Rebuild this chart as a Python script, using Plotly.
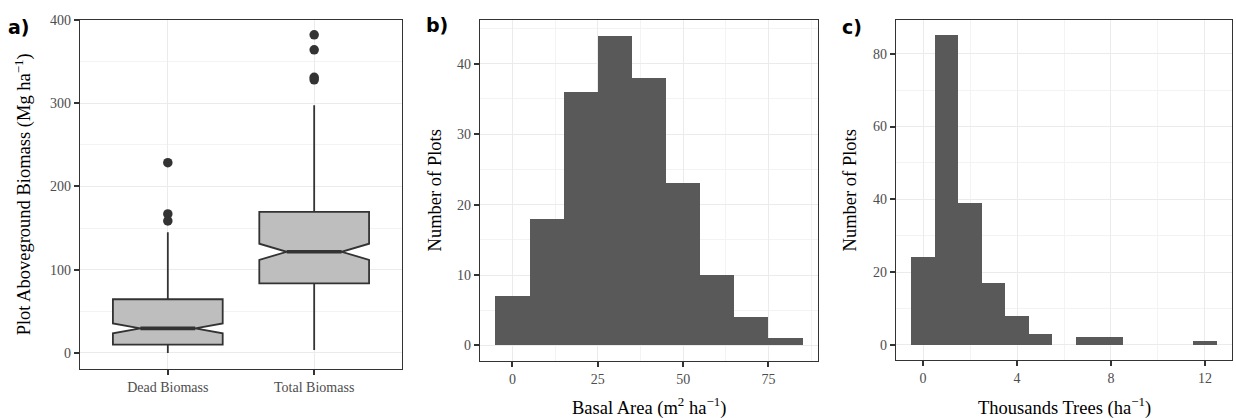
import plotly.graph_objects as go

# ---------------- data ----------------
box_categories = ["Dead Biomass", "Total Biomass"]
box_q1 = [10, 83.5]
box_median = [29.5, 121.5]
box_q3 = [64.5, 169.5]
box_lower = [0, 3.5]
box_upper = [145, 297.5]
box_notchspan = [5.9, 9.7]
dead_outliers = [228.5, 167, 158.5]
total_outliers = [382, 364, 331, 328]

ba_centers = [0, 10, 20, 30, 40, 50, 60, 70, 80]
ba_counts = [7, 18, 36, 44, 38, 23, 10, 4, 1]

tr_centers = [0, 1, 2, 3, 4, 5, 6, 7, 8, 9, 10, 11, 12]
tr_counts = [24, 85, 39, 17, 8, 3, 0, 2, 2, 0, 0, 0, 1]

# ---------------- style ----------------
W, H = 1236, 418
SERIF = "Liberation Serif, Times New Roman, serif"
LABEL_FONT = "DejaVu Sans, Arial, sans-serif"
BORDER = "#333333"
GRID = "#ebebeb"
MINOR = "#f3f3f3"
TICKC = "#4d4d4d"
BAR = "#595959"
BOXFILL = "#bebebe"
BOX_W = 0.75
NOTCH_W = 0.25


def px_x(p):
    return p / W


def px_y(p):
    return 1 - p / H


fig = go.Figure()

# ---- panel a: notched boxplots ----
for i, cat in enumerate(box_categories):
    pos = i + 1
    fig.add_trace(go.Box(
        x=[pos], q1=[box_q1[i]], median=[box_median[i]], q3=[box_q3[i]],
        lowerfence=[box_lower[i]], upperfence=[box_upper[i]],
        notchspan=[box_notchspan[i]], notched=True, notchwidth=NOTCH_W,
        width=BOX_W, whiskerwidth=0, boxpoints=False,
        fillcolor=BOXFILL, line=dict(color=BORDER, width=1.8),
        xaxis="x", yaxis="y", showlegend=False, hoverinfo="skip",
    ))
    # thicker median segment (ggplot fatten)
    half_med = BOX_W / 2 * (1 - 2 * NOTCH_W)
    fig.add_trace(go.Scatter(
        x=[pos - half_med, pos + half_med], y=[box_median[i]] * 2,
        mode="lines", line=dict(color=BORDER, width=3.6),
        xaxis="x", yaxis="y", showlegend=False, hoverinfo="skip",
    ))

fig.add_trace(go.Scatter(
    x=[1] * len(dead_outliers) + [2] * len(total_outliers),
    y=dead_outliers + total_outliers,
    mode="markers", marker=dict(color=BORDER, size=9.5),
    xaxis="x", yaxis="y", showlegend=False, hoverinfo="skip",
))

# ---- panel b: basal area histogram ----
fig.add_trace(go.Bar(
    x=ba_centers, y=ba_counts, width=10, marker=dict(color=BAR, line=dict(width=0)),
    xaxis="x2", yaxis="y2", showlegend=False, hoverinfo="skip",
))

# ---- panel c: trees histogram ----
fig.add_trace(go.Bar(
    x=tr_centers, y=tr_counts, width=1, marker=dict(color=BAR, line=dict(width=0)),
    xaxis="x3", yaxis="y3", showlegend=False, hoverinfo="skip",
))

common = dict(
    showline=True, mirror=True, linecolor=BORDER, linewidth=1.4,
    ticks="outside", ticklen=5, tickcolor=BORDER, tickwidth=1.8,
    tickfont=dict(family=SERIF, size=14, color=TICKC),
    showgrid=True, gridcolor=GRID, gridwidth=1.1, zeroline=False,
)

fig.update_layout(
    width=W, height=H, margin=dict(l=0, r=0, t=0, b=0),
    paper_bgcolor="white", plot_bgcolor="white", bargap=0,
    xaxis=dict(domain=[px_x(80), px_x(402)], range=[0.4, 2.6], anchor="y",
               tickvals=[1, 2], ticktext=box_categories, **common),
    yaxis=dict(domain=[px_y(368), px_y(13)], range=[-19.05, 400.05], anchor="x",
               tickvals=[0, 100, 200, 300, 400],
               minor=dict(tickvals=[50, 150, 250, 350], showgrid=True,
                          gridcolor=MINOR, gridwidth=0.7), **common),
    xaxis2=dict(domain=[px_x(480), px_x(818)], range=[-9.5, 89.5], anchor="y2",
                tickvals=[0, 25, 50, 75],
                minor=dict(tickvals=[12.5, 37.5, 62.5, 87.5], showgrid=True,
                           gridcolor=MINOR, gridwidth=0.7), **common),
    yaxis2=dict(domain=[px_y(360), px_y(13.3)], range=[-2.2, 46.2], anchor="x2",
                tickvals=[0, 10, 20, 30, 40],
                minor=dict(tickvals=[5, 15, 25, 35, 45], showgrid=True,
                           gridcolor=MINOR, gridwidth=0.7), **common),
    xaxis3=dict(domain=[px_x(896), px_x(1232)], range=[-1.15, 13.15], anchor="y3",
                tickvals=[0, 4, 8, 12],
                minor=dict(tickvals=[2, 6, 10], showgrid=True,
                           gridcolor=MINOR, gridwidth=0.7), **common),
    yaxis3=dict(domain=[px_y(359.3), px_y(13.3)], range=[-4.25, 89.25], anchor="x3",
                tickvals=[0, 20, 40, 60, 80],
                minor=dict(tickvals=[10, 30, 50, 70], showgrid=True,
                           gridcolor=MINOR, gridwidth=0.7), **common),
)

title_font = dict(family=SERIF, size=18.5, color="black")
label_font = dict(family=LABEL_FONT, size=19, color="black")
annotations = [
    # panel labels
    dict(text="<b>a)</b>", x=px_x(19), y=px_y(20), xanchor="center", yanchor="middle",
         font=label_font),
    dict(text="<b>b)</b>", x=px_x(437), y=px_y(18.5), xanchor="center", yanchor="middle",
         font=label_font),
    dict(text="<b>c)</b>", x=px_x(852), y=px_y(20), xanchor="center", yanchor="middle",
         font=label_font),
    # axis titles
    dict(text="Plot Aboveground Biomass (Mg ha<sup>−1</sup>)", x=px_x(23), y=px_y(190.5),
         textangle=-90, xanchor="center", yanchor="middle", font=title_font),
    dict(text="Number of Plots", x=px_x(435), y=px_y(186.5),
         textangle=-90, xanchor="center", yanchor="middle", font=title_font),
    dict(text="Number of Plots", x=px_x(850), y=px_y(186.5),
         textangle=-90, xanchor="center", yanchor="middle", font=title_font),
    dict(text="Basal Area (m<sup>2</sup> ha<sup>−1</sup>)", x=px_x(649), y=px_y(406),
         xanchor="center", yanchor="middle", font=title_font),
    dict(text="Thousands Trees (ha<sup>−1</sup>)", x=px_x(1064), y=px_y(406),
         xanchor="center", yanchor="middle", font=title_font),
]
for a in annotations:
    a.update(xref="paper", yref="paper", showarrow=False)
fig.update_layout(annotations=annotations)

fig.write_html("out.html")
